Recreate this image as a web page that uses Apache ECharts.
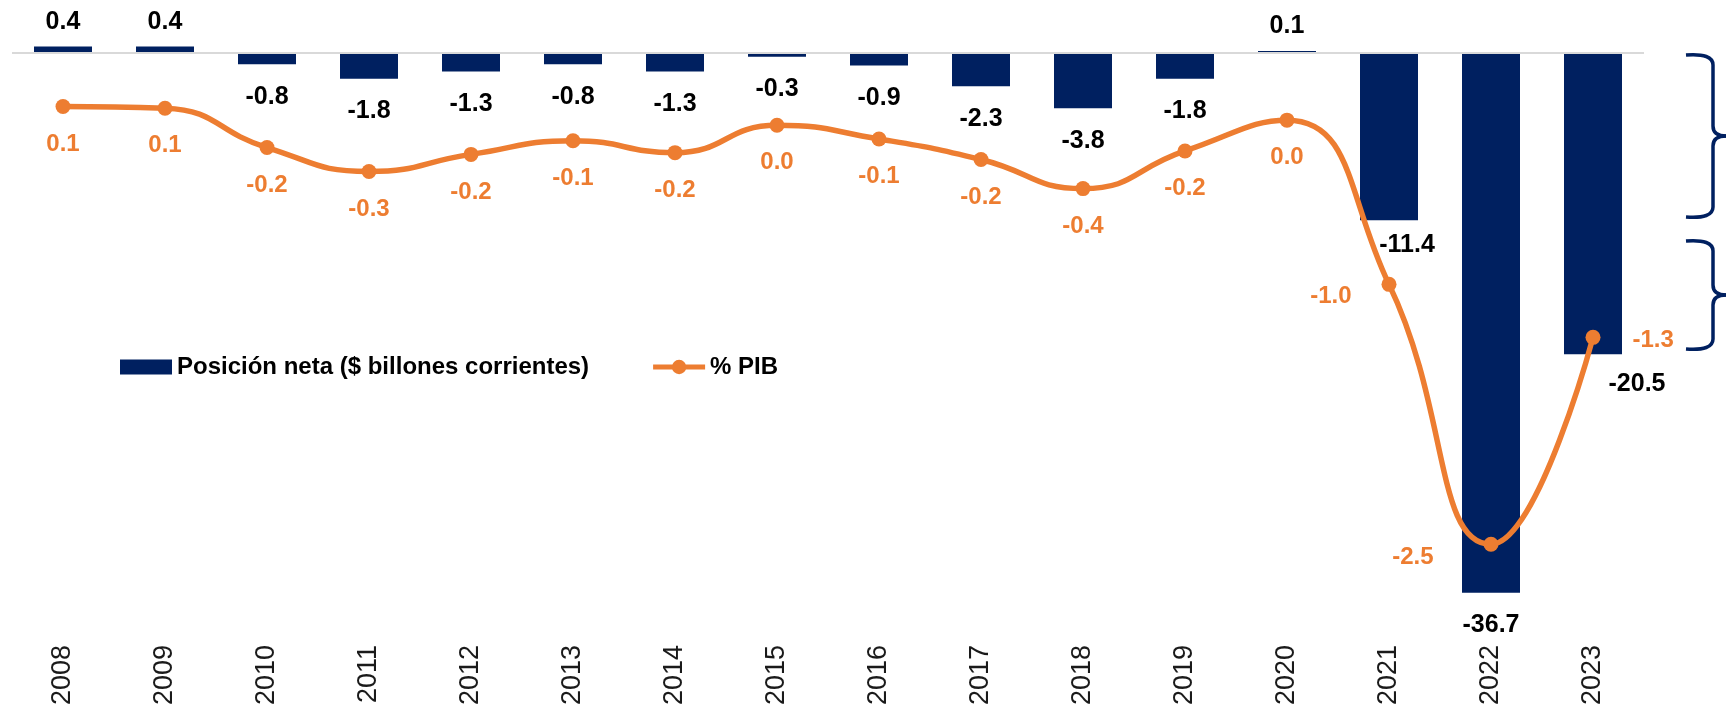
<!DOCTYPE html>
<html>
	<head>
		<meta charset="utf-8">
		<title>Posición neta</title>
		<script src="https://cdn.jsdelivr.net/npm/echarts@6/dist/echarts.min.js"></script>
		<style>
			html,body{margin:0;padding:0;background:#fff;}
			#chart{width:1726px;height:708px;}
		</style>
	</head>
	<body>
		<div id="chart"></div>
		<script type="text/javascript">
			var years = ['2008','2009','2010','2011','2012','2013','2014','2015','2016','2017','2018','2019','2020','2021','2022','2023'];
			// $ billones corrientes
			var posicionNeta = [0.4, 0.4, -0.8, -1.8, -1.3, -0.8, -1.3, -0.3, -0.9, -2.3, -3.8, -1.8, 0.1, -11.4, -36.7, -20.5];
			// % PIB
			var pctPIB = [0.07, 0.06, -0.17, -0.31, -0.21, -0.13, -0.20, -0.04, -0.12, -0.24, -0.41, -0.19, -0.01, -0.97, -2.49, -1.28];
			var seriesNames = ['Posición neta ($ billones corrientes)', '% PIB'];

			var navy = '#002060', orange = '#ED7D31', font = 'Liberation Sans';

			function fmt(v){
				if(Math.abs(v) < 0.05) return '0.0';
				return v.toFixed(1);
			}

			// etiquetas que se corren para no chocar con la linea
			var barLabelShift = {
				13: {offset: [18, 0], distance: 12},
				15: {offset: [44, 0], distance: 17}
			};
			var lineLabelPos = {
				13: {position: 'left', distance: 30, offset: [0, 12]},
				14: {position: 'left', distance: 50, offset: [0, 13]},
				15: {position: 'right', distance: 32, offset: [0, 3]}
			};

			var barData = posicionNeta.map(function(v, i){
				var item = {value: v};
				item.label = v >= 0 ? {position: 'top', distance: 12} : {position: 'bottom', distance: 20};
				if(barLabelShift[i]){
					item.label.offset = barLabelShift[i].offset;
					item.label.distance = barLabelShift[i].distance;
				}
				return item;
			});
			var lineData = pctPIB.map(function(v, i){
				var item = {value: v};
				if(lineLabelPos[i]) item.label = lineLabelPos[i];
				return item;
			});

			// llave "}" a la derecha
			function brace(yTop, yBot){
				var x0 = 1686, xv = 1713, xt = 1726, ym = (yTop + yBot) / 2;
				var st = {stroke: navy, lineWidth: 3.5, fill: null};
				return [
					{type: 'bezierCurve', shape: {x1: x0, y1: yTop, cpx1: xv, cpy1: yTop - 2, x2: xv, y2: yTop + 10}, style: st},
					{type: 'line', shape: {x1: xv, y1: yTop + 10, x2: xv, y2: ym - 10}, style: st},
					{type: 'bezierCurve', shape: {x1: xv, y1: ym - 10, cpx1: xv, cpy1: ym, x2: xt, y2: ym}, style: st},
					{type: 'bezierCurve', shape: {x1: xt, y1: ym, cpx1: xv, cpy1: ym, x2: xv, y2: ym + 10}, style: st},
					{type: 'line', shape: {x1: xv, y1: ym + 10, x2: xv, y2: yBot - 10}, style: st},
					{type: 'bezierCurve', shape: {x1: xv, y1: yBot - 10, cpx1: xv, cpy1: yBot + 2, x2: x0, y2: yBot}, style: st}
				];
			}

			// icono de leyenda: linea gruesa con punto
			var lineIcon = 'path://M0,5H54V10H0Z M19.5,7.5A7.5,7.5 0 1,1 34.5,7.5A7.5,7.5 0 1,1 19.5,7.5Z';

			var myChart = echarts.init(document.getElementById('chart'));
			var option = {
				animation: false,
				textStyle: {fontFamily: font},
				grid: {left: 12, right: 82, top: 22.9, height: 592.4},
				legend: {
					left: 115,
					top: 350,
					itemWidth: 52,
					itemHeight: 15,
					itemGap: 64,
					textStyle: {fontSize: 24, fontWeight: 'bold', color: '#000', fontFamily: font},
					data: [
						{name: seriesNames[0], icon: 'rect'},
						{name: seriesNames[1], icon: lineIcon, itemStyle: {color: orange}}
					]
				},
				xAxis: {
					type: 'category',
					data: years,
					axisLine: {show: false, onZero: false},
					axisTick: {show: false},
					axisLabel: {rotate: 90, margin: 33, fontSize: 27, color: '#1a1a1a', fontFamily: font}
				},
				yAxis: [
					{type: 'value', min: -38, max: 2, show: false, splitLine: {show: false}},
					{type: 'value', min: -2.8855, max: 0.5588, show: false, splitLine: {show: false}}
				],
				series: [{
					name: seriesNames[0],
					type: 'bar',
					barWidth: 58,
					itemStyle: {color: navy},
					label: {
						show: true,
						fontSize: 25,
						fontWeight: 'bold',
						color: '#000',
						fontFamily: font,
						formatter: function(p){ return fmt(p.value); }
					},
					markLine: {
						silent: true,
						symbol: 'none',
						label: {show: false},
						lineStyle: {color: '#d9d9d9', width: 2, type: 'solid'},
						data: [{yAxis: 0}]
					},
					data: barData
				},{
					name: seriesNames[1],
					type: 'line',
					yAxisIndex: 1,
					smooth: 0.5,
					symbol: 'circle',
					symbolSize: 15,
					lineStyle: {color: orange, width: 5.5},
					itemStyle: {color: orange},
					label: {
						show: true,
						position: 'bottom',
						distance: 18,
						fontSize: 24,
						fontWeight: 'bold',
						color: orange,
						fontFamily: font,
						formatter: function(p){ return fmt(p.value); }
					},
					z: 5,
					data: lineData
				}],
				graphic: brace(55, 217).concat(brace(241, 349))
			};
			myChart.setOption(option);
		</script>
	</body>
</html>
